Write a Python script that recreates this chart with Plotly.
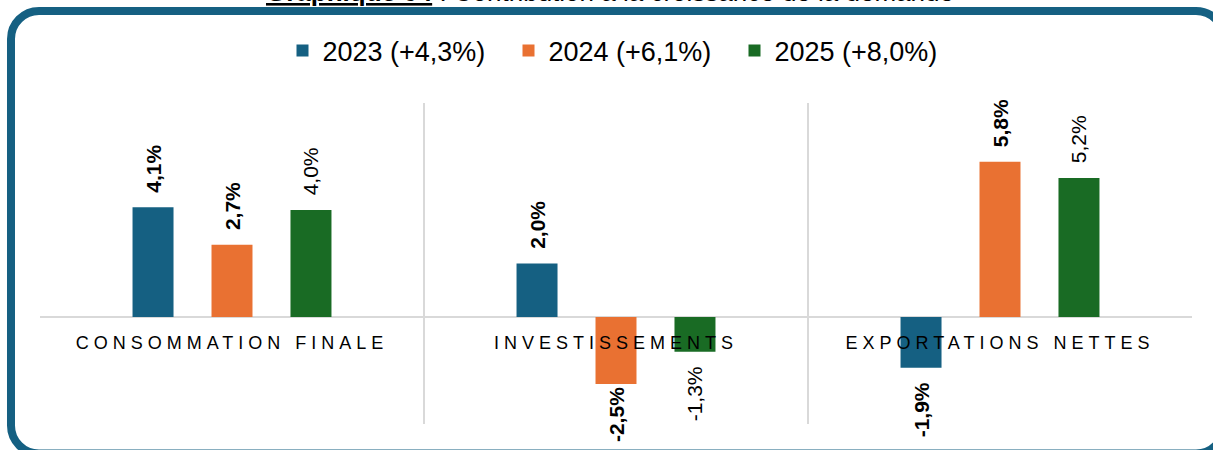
import plotly.graph_objects as go

# ---- data ----
categories = ["CONSOMMATION FINALE", "INVESTISSEMENTS", "EXPORTATIONS NETTES"]
series_names = ["2023 (+4,3%)", "2024 (+6,1%)", "2025 (+8,0%)"]
values_2023 = [4.1, 2.0, -1.9]
values_2024 = [2.7, -2.5, 5.8]
values_2025 = [4.0, -1.3, 5.2]
title_bold = "Graphique 04"
title_rest = " : Contribution à la croissance de la demande"

series_values = [values_2023, values_2024, values_2025]
colors = ["#156082", "#E97132", "#196B24"]
label_weights = ["bold", "bold", "normal"]

FONT = "Arial, 'Liberation Sans', sans-serif"
W, H = 1213, 450
ML, MR, MT, MB = 40, 21, 103, 26
PW, PH = W - ML - MR, H - MT - MB
Y_RANGE = [-4, 8]

NBSP = "\u00a0"


def fmt(v):
    s = f"{v:.1f}%".replace(".", ",")
    if v >= 0:
        return NBSP * 2 + s
    # keep the label of the deepest negative bar inside the chart (as Excel does)
    return s + (NBSP * 2 if v > 0.55 * Y_RANGE[0] else "")


fig = go.Figure()
for name, vals, col, wt in zip(series_names, series_values, colors, label_weights):
    fig.add_trace(go.Bar(
        name=name,
        x=categories,
        y=vals,
        marker=dict(color=col, line=dict(width=0)),
        text=[fmt(v) for v in vals],
        textposition="outside",
        textangle=-90,
        constraintext="none",
        cliponaxis=False,
        textfont=dict(family=FONT, size=21, color="#000000", weight=wt),
        hoverinfo="skip",
    ))


def px_to_paper(px, py):
    return (px - ML) / PW, (H - MB - py) / PH


def rounded_rect(x0, y0, x1, y1, r):
    k = 0.5523 * r

    def P(x, y):
        a, b = px_to_paper(x, y)
        return f"{a:.6f},{b:.6f}"

    d = f"M {P(x0 + r, y0)} L {P(x1 - r, y0)} "
    d += f"C {P(x1 - r + k, y0)} {P(x1, y0 + r - k)} {P(x1, y0 + r)} "
    d += f"L {P(x1, y1 - r)} "
    d += f"C {P(x1, y1 - r + k)} {P(x1 - r + k, y1)} {P(x1 - r, y1)} "
    d += f"L {P(x0 + r, y1)} "
    d += f"C {P(x0 + r - k, y1)} {P(x0, y1 - r + k)} {P(x0, y1 - r)} "
    d += f"L {P(x0, y0 + r)} "
    d += f"C {P(x0, y0 + r - k)} {P(x0 + r - k, y0)} {P(x0 + r, y0)} Z"
    return d


fig.add_shape(type="path", xref="paper", yref="paper",
              path=rounded_rect(11, 11, 1224, 453.5, 28),
              line=dict(color="#156082", width=8), fillcolor="rgba(0,0,0,0)",
              layer="above")

tx, ty = px_to_paper(610, 9.5)
fig.add_annotation(
    xref="paper", yref="paper", x=tx, y=ty,
    xanchor="center", yanchor="bottom", showarrow=False,
    text=f"<b><span style='text-decoration:underline'>{title_bold}</span></b>{title_rest}",
    font=dict(family=FONT, size=26, color="#000000"),
)

fig.update_layout(
    width=W, height=H,
    margin=dict(l=ML, r=MR, t=MT, b=MB, pad=0),
    barmode="group", bargap=0.383, bargroupgap=0.481,
    plot_bgcolor="white", paper_bgcolor="white",
    font=dict(family=FONT, color="#000000"),
    showlegend=True,
    legend=dict(
        orientation="h", xref="container", yref="container",
        x=621.5 / W, xanchor="center", y=1 - 51 / H, yanchor="middle",
        font=dict(family=FONT, size=27, color="#000000"),
        entrywidth=181, entrywidthmode="pixels", traceorder="normal",
        bgcolor="rgba(0,0,0,0)",
    ),
    xaxis=dict(
        type="category", categoryorder="array", categoryarray=categories,
        tickmode="array", tickvals=categories,
        ticktext=[f"<span style='letter-spacing:5px'>{c}</span>" for c in categories],
        tickson="boundaries", ticks="",
        showgrid=True, gridcolor="#d9d9d9", gridwidth=1.5,
        range=[-0.5, 2.5], anchor="free", position=1 / 3,
        showline=False, zeroline=False,
        tickfont=dict(family=FONT, size=18, color="#000000"),
        ticklabelstandoff=13, fixedrange=True,
    ),
    yaxis=dict(
        range=Y_RANGE, showgrid=False, showticklabels=False, ticks="",
        zeroline=True, zerolinecolor="#d9d9d9", zerolinewidth=2,
        showline=False, fixedrange=True,
    ),
)

fig.write_html("out.html", config={"displayModeBar": False},
               post_script="document.body.style.margin='0px';")
